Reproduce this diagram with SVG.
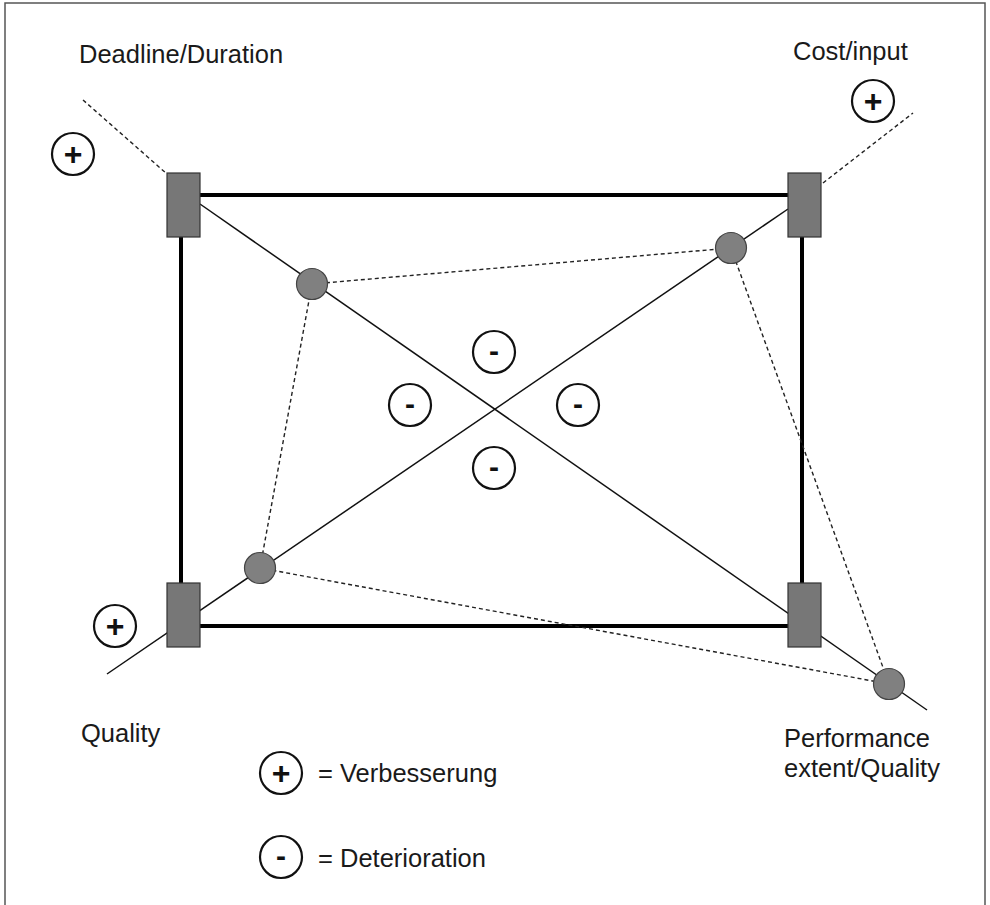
<svg xmlns="http://www.w3.org/2000/svg" width="990" height="905" viewBox="0 0 990 905">
  <style>
    .frame { fill: none; stroke: #000; stroke-width: 4; }
    .corner { fill: #777; stroke: #333; stroke-width: 1.2; }
    .point { fill: #808080; stroke: #444; stroke-width: 1.2; }
    .axis { fill: none; stroke: #111; stroke-width: 1.5; }
    .dash { fill: none; stroke: #222; stroke-width: 1.4; stroke-dasharray: 4 3; }
    .sym { fill: #fff; stroke: #111; stroke-width: 2.2; }
    .lbl { font-family: "Liberation Sans", Arial, sans-serif; font-size: 25.5px; fill: #1a1a1a; }
    .mark { font-family: "Liberation Sans", Arial, sans-serif; font-weight: bold; fill: #111; text-anchor: middle; }
  </style>

  <rect x="0" y="0" width="990" height="905" fill="#fff"/>
  <!-- outer border -->
  <rect x="5" y="3" width="980" height="910" fill="none" stroke="#555" stroke-width="1.5"/>

  <!-- connectors: rectangle sides, axes and dashed quadrilateral -->
  <g id="connectors">
    <line class="frame" x1="200" y1="195" x2="788" y2="195"/>
    <line class="frame" x1="200" y1="626" x2="788" y2="626"/>
    <line class="frame" x1="181" y1="237" x2="181" y2="583"/>
    <line class="frame" x1="802" y1="237" x2="802" y2="583"/>

    <line class="axis" x1="200" y1="204" x2="927" y2="710"/>
    <line class="axis" x1="107" y1="674" x2="788" y2="209"/>
    <line class="dash" x1="83" y1="100" x2="167" y2="174"/>
    <line class="dash" x1="823" y1="183" x2="913" y2="113"/>

    <line class="dash" x1="312" y1="284" x2="731" y2="248"/>
    <line class="dash" x1="731" y1="248" x2="889" y2="684"/>
    <line class="dash" x1="889" y1="684" x2="260" y2="568"/>
    <line class="dash" x1="260" y1="568" x2="312" y2="284"/>
  </g>

  <!-- corner blocks -->
  <g id="corner-tl"><rect class="corner" x="167" y="173" width="33" height="64"/></g>
  <g id="corner-tr"><rect class="corner" x="788" y="173" width="33" height="64"/></g>
  <g id="corner-bl"><rect class="corner" x="167" y="583" width="33" height="64"/></g>
  <g id="corner-br"><rect class="corner" x="788" y="583" width="33" height="64"/></g>

  <!-- measured points on the axes -->
  <g id="point-deadline"><circle class="point" cx="312" cy="284" r="15.5"/></g>
  <g id="point-cost"><circle class="point" cx="731" cy="248" r="15.5"/></g>
  <g id="point-quality"><circle class="point" cx="260" cy="568" r="15.5"/></g>
  <g id="point-performance"><circle class="point" cx="889" cy="684" r="15.5"/></g>

  <!-- improvement markers -->
  <g id="plus-deadline">
    <circle class="sym" cx="73" cy="154" r="21"/>
    <text class="mark" x="73" y="165" font-size="32">+</text>
  </g>
  <g id="plus-cost">
    <circle class="sym" cx="873" cy="101" r="21"/>
    <text class="mark" x="873" y="112" font-size="32">+</text>
  </g>
  <g id="plus-quality">
    <circle class="sym" cx="115" cy="626" r="21"/>
    <text class="mark" x="115" y="637" font-size="32">+</text>
  </g>

  <!-- deterioration markers -->
  <g id="minus-top">
    <circle class="sym" cx="494" cy="352" r="21"/>
    <text class="mark" x="494" y="361" font-size="30">-</text>
  </g>
  <g id="minus-left">
    <circle class="sym" cx="410" cy="405" r="21"/>
    <text class="mark" x="410" y="414" font-size="30">-</text>
  </g>
  <g id="minus-right">
    <circle class="sym" cx="578" cy="405" r="21"/>
    <text class="mark" x="578" y="414" font-size="30">-</text>
  </g>
  <g id="minus-bottom">
    <circle class="sym" cx="494" cy="468" r="21"/>
    <text class="mark" x="494" y="477" font-size="30">-</text>
  </g>

  <!-- axis labels -->
  <g id="label-deadline"><text class="lbl" x="79" y="63">Deadline/Duration</text></g>
  <g id="label-cost"><text class="lbl" x="793" y="60">Cost/input</text></g>
  <g id="label-quality"><text class="lbl" x="81" y="742">Quality</text></g>
  <g id="label-performance">
    <text class="lbl" x="784" y="747">Performance</text>
    <text class="lbl" x="784" y="777">extent/Quality</text>
  </g>

  <!-- legend -->
  <g id="legend-plus">
    <circle class="sym" cx="281" cy="773" r="21"/>
    <text class="mark" x="281" y="784" font-size="32">+</text>
    <text class="lbl" x="318" y="782">= Verbesserung</text>
  </g>
  <g id="legend-minus">
    <circle class="sym" cx="281" cy="857" r="21"/>
    <text class="mark" x="281" y="866" font-size="30">-</text>
    <text class="lbl" x="318" y="867">= Deterioration</text>
  </g>
</svg>
